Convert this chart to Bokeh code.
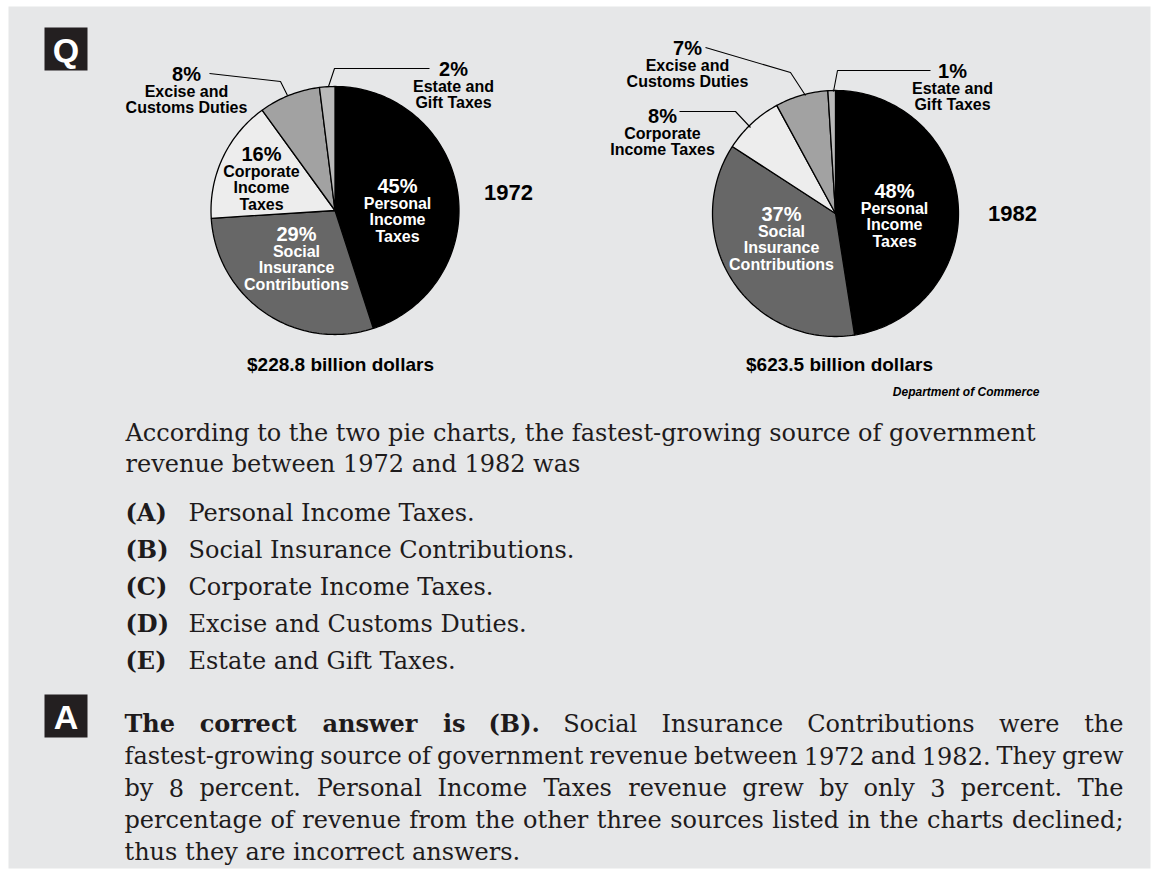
import math
from bokeh.plotting import figure
from bokeh.models import Range1d, ColumnDataSource
from bokeh.core.properties import value
from bokeh.embed import file_html
from bokeh.resources import INLINE

# ---------------- data ----------------
categories = ["Personal Income Taxes", "Social Insurance Contributions",
              "Corporate Income Taxes", "Excise and Customs Duties",
              "Estate and Gift Taxes"]
values_1972 = [45, 29, 16, 8, 2]
values_1982 = [48, 37, 8, 7, 1]
years = ["1972", "1982"]
totals = ["$228.8 billion dollars", "$623.5 billion dollars"]
source_note = "Department of Commerce"

labels_1972 = [["Personal", "Income", "Taxes"],
               ["Social", "Insurance", "Contributions"],
               ["Corporate", "Income", "Taxes"],
               ["Excise and", "Customs Duties"],
               ["Estate and", "Gift Taxes"]]
labels_1982 = [["Personal", "Income", "Taxes"],
               ["Social", "Insurance", "Contributions"],
               ["Corporate", "Income Taxes"],
               ["Excise and", "Customs Duties"],
               ["Estate and", "Gift Taxes"]]

question_lines = ["According to the two pie charts, the fastest-growing source of government",
                  "revenue between 1972 and 1982 was"]
option_keys = ["(A)", "(B)", "(C)", "(D)", "(E)"]
option_texts = ["Personal Income Taxes.", "Social Insurance Contributions.",
                "Corporate Income Taxes.", "Excise and Customs Duties.",
                "Estate and Gift Taxes."]
answer_bold = "The correct answer is (B)."
answer_lines = ["Social Insurance Contributions were the",
                "fastest-growing source of government revenue between 1972 and 1982. They grew",
                "by 8 percent. Personal Income Taxes revenue grew by only 3 percent. The",
                "percentage of revenue from the other three sources listed in the charts declined;",
                "thus they are incorrect answers."]

# ---------------- styles / layout ----------------
BG = "#e6e7e8"
slice_colors = ["#000000", "#676767", "#ededed", "#a2a2a2", "#b9b9b9"]
label_colors = ["white", "white", "black", "black", "black"]
SANS = value("Liberation Sans")
SERIF = value("DejaVu Serif")

W, H = 1152, 870
p = figure(width=W, height=H, x_range=Range1d(0, W), y_range=Range1d(H, 0),
           output_backend="svg", toolbar_location=None, min_border=0,
           background_fill_color="white", border_fill_color="white")
p.axis.visible = False
p.grid.visible = False
p.outline_line_color = None

# grey panel
p.quad(left=[8], right=[1150], top=[6], bottom=[868], fill_color=BG, line_color=None)

pies = [
    dict(values=values_1972, labels=labels_1972, cx=334.5, cy=210, r=124,
         anchors=[(397, 185), (296, 233), (261, 153), (186, 73), (453, 68)],
         leaders=[[(209, 73), (280, 81), (287, 95)], [(429, 68), (334, 68), (328, 86)]],
         year_pos=(508, 192), total_pos=(340, 364)),
    dict(values=values_1982, labels=labels_1982, cx=835, cy=213, r=123,
         anchors=[(894, 190), (781, 213), (662, 115), (687, 47), (952, 70)],
         leaders=[[(705, 47), (790, 72), (805, 95)], [(679, 111), (735, 111), (750, 127)],
                  [(930, 70), (837, 70), (833, 91)]],
         year_pos=(1012, 213), total_pos=(839, 364)),
]

for pie in pies:
    vals = pie["values"]
    tot = float(sum(vals))
    cx, cy, r = pie["cx"], pie["cy"], pie["r"]
    xs, ys = [], []
    start = 0.0
    for v in vals:
        end = start + v / tot * 2 * math.pi
        n = max(4, int(v * 3))
        px, py = [cx], [cy]
        for k in range(n + 1):
            t = start + (end - start) * k / n
            px.append(cx + r * math.sin(t))
            py.append(cy - r * math.cos(t))
        xs.append(px)
        ys.append(py)
        start = end
    p.patches(xs, ys, fill_color=slice_colors, line_color="black", line_width=1.3)

    # leader lines
    p.multi_line([[pt[0] for pt in L] for L in pie["leaders"]],
                 [[pt[1] for pt in L] for L in pie["leaders"]],
                 line_color="black", line_width=1.1)

    # labels
    for i, (v, lines) in enumerate(zip(vals, pie["labels"])):
        ax, ay = pie["anchors"][i]
        p.text(x=[ax], y=[ay], text=[f"{v}%"], text_font=SANS, text_font_style="bold",
               text_font_size="20px", text_color=label_colors[i],
               text_align="center", text_baseline="middle")
        lx = [ax] * len(lines)
        ly = [ay + 17.5 + 16.5 * k for k in range(len(lines))]
        p.text(x=lx, y=ly, text=lines, text_font=SANS, text_font_style="bold",
               text_font_size="16px", text_color=label_colors[i],
               text_align="center", text_baseline="middle")

for pie, yr, tot in zip(pies, years, totals):
    p.text(x=[pie["year_pos"][0]], y=[pie["year_pos"][1]], text=[yr], text_font=SANS,
           text_font_style="bold", text_font_size="22px", text_color="black",
           text_align="center", text_baseline="middle")
    p.text(x=[pie["total_pos"][0]], y=[pie["total_pos"][1]], text=[tot], text_font=SANS,
           text_font_style="bold", text_font_size="19px", text_color="black",
           text_align="center", text_baseline="middle")

p.text(x=[1039], y=[391], text=[source_note], text_font=SANS, text_font_style="bold italic",
       text_font_size="12px", text_color="black", text_align="right", text_baseline="middle")

# Q and A boxes
for top, letter in [(27, "Q"), (694, "A")]:
    p.quad(left=[44], right=[87], top=[top], bottom=[top + 43], fill_color="#231f20",
           line_color=None)
    p.text(x=[65.5], y=[top + 22], text=[letter], text_font=SANS, text_font_style="bold",
           text_font_size="34px", text_color="white", text_align="center",
           text_baseline="middle")

# ---------------- body text ----------------
BODY_SIZE = 24
TXT = "#1e1b1c"

p.text(x=[125, 125], y=[432, 463], text=question_lines, text_font=SERIF,
       text_font_size=f"{BODY_SIZE}px", text_color=TXT, text_align="left",
       text_baseline="alphabetic")

opt_y = [512, 549, 586, 623, 660]
p.text(x=[125] * 5, y=opt_y, text=option_keys, text_font=SERIF, text_font_style="bold",
       text_font_size=f"{BODY_SIZE}px", text_color=TXT, text_align="left",
       text_baseline="alphabetic")
p.text(x=[188] * 5, y=opt_y, text=option_texts, text_font=SERIF,
       text_font_size=f"{BODY_SIZE}px", text_color=TXT, text_align="left",
       text_baseline="alphabetic")

# approximate glyph advance widths (em) used to spread justified lines
EMW = {' ': .318, '.': .318, ',': .318, ';': .337, '-': .338, '(': .39, ')': .39,
       'a': .596, 'b': .64, 'c': .56, 'd': .64, 'e': .592, 'f': .37, 'g': .64, 'h': .644,
       'i': .32, 'j': .31, 'k': .6, 'l': .32, 'm': .948, 'n': .644, 'o': .602, 'p': .64,
       'q': .64, 'r': .478, 's': .513, 't': .402, 'u': .644, 'v': .565, 'w': .856,
       'x': .564, 'y': .565, 'z': .523, 'A': .722, 'B': .735, 'C': .73, 'D': .78,
       'E': .683, 'I': .372, 'P': .673, 'S': .685, 'T': .674}


def est_width(word, bold):
    w = sum(EMW.get(ch, .636) for ch in word) * BODY_SIZE
    return w * (1.1 if bold else 1.0)


X0, X1 = 124, 1123
ans_y = [723, 755, 787, 819, 851]
groups = {}
for li, (line, yb) in enumerate(zip(answer_lines, ans_y)):
    words = []
    if li == 0:
        words += [(w, True) for w in answer_bold.split()]
    words += [(w, False) for w in line.split()]
    if li == len(answer_lines) - 1:
        groups.setdefault((False, "left"), []).append((X0, yb, line))
        continue
    widths = [est_width(w, b) for w, b in words]
    gap = (X1 - X0 - sum(widths)) / (len(words) - 1)
    x = X0
    for k, ((w, b), wd) in enumerate(zip(words, widths)):
        if k == 0:
            key, xx = (b, "left"), X0
        elif k == len(words) - 1:
            key, xx = (b, "right"), X1
        else:
            key, xx = (b, "center"), x + wd / 2
        groups.setdefault(key, []).append((xx, yb, w))
        x += wd + gap

for (bold, align), items in groups.items():
    src = ColumnDataSource(dict(x=[it[0] for it in items], y=[it[1] for it in items],
                                t=[it[2] for it in items]))
    p.text(x="x", y="y", text="t", source=src, text_font=SERIF,
           text_font_style="bold" if bold else "normal",
           text_font_size=f"{BODY_SIZE}px", text_color=TXT, text_align=align,
           text_baseline="alphabetic")

open("out.html", "w").write(file_html(p, INLINE))
